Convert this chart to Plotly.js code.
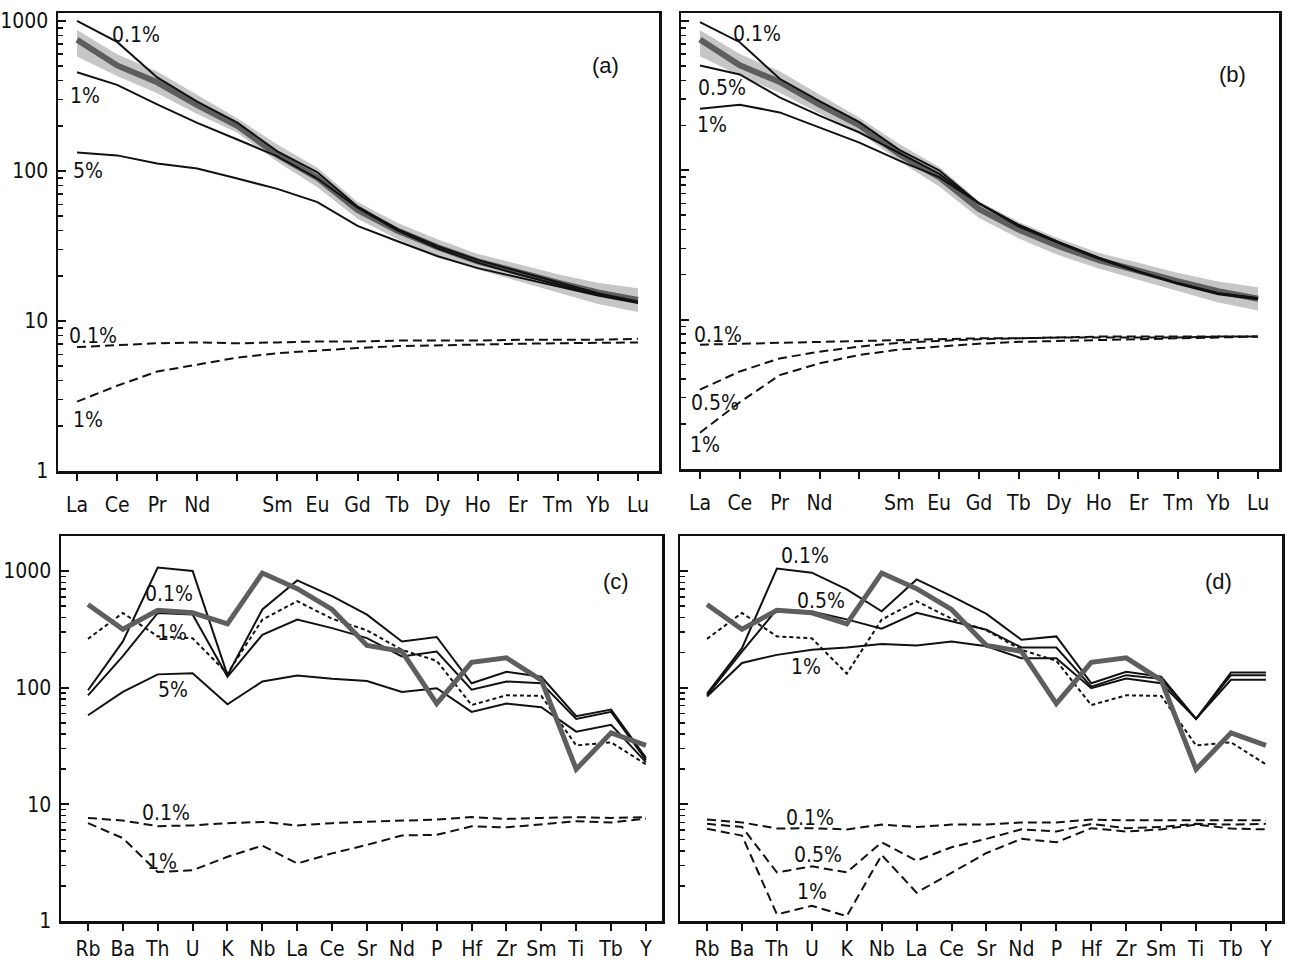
<!DOCTYPE html>
<html><head><meta charset="utf-8">
<script src="https://cdn.plot.ly/plotly-3.0.1.min.js"></script>
<style>html,body{margin:0;padding:0;background:#fff}#chart{width:1295px;height:963px}</style>
</head><body><div id="chart"></div>
<script>
// ---------- REE panels (a), (b) ----------
const reeElements   = ['La','Ce','Pr','Nd','Pm','Sm','Eu','Gd','Tb','Dy','Ho','Er','Tm','Yb','Lu'];
const reeTickLabels = ['La','Ce','Pr','Nd','','Sm','Eu','Gd','Tb','Dy','Ho','Er','Tm','Yb','Lu'];

const sampleBandUpper = [870, 600, 460, 320, 225, 150, 105, 62, 45, 35, 28, 24, 20.5, 18, 16.5];
const sampleBandLower = [580, 430, 330, 240, 180, 115, 78, 48, 35, 27, 22, 18.5, 15.5, 13, 11.5];
const sampleMeanREE   = [750, 505, 390, 275, 200, 128, 90, 55, 40, 31, 25, 21, 18, 15.5, 13.8];

const aMelt01 = [1000, 725, 420, 290, 210, 135, 98, 58, 41, 31.5, 25.5, 21.5, 18, 15.3, 13.5];
const aMelt1  = [455, 375, 278, 209, 162, 125, 89, 57, 40, 30.5, 24.5, 20.5, 17.5, 15, 13.3];
const aMelt5  = [133, 127, 112, 104, 89, 76, 62, 43, 34, 27, 22.5, 19.5, 17, 14.8, 13.2];
const aRes01  = [6.7, 6.9, 7.1, 7.2, 7.1, 7.2, 7.3, 7.3, 7.4, 7.4, 7.4, 7.5, 7.5, 7.5, 7.6];
const aRes1   = [2.9, 3.7, 4.6, 5.1, 5.7, 6.1, 6.35, 6.6, 6.8, 6.9, 7.0, 7.05, 7.1, 7.15, 7.2];

const bMelt01 = [980, 720, 410, 290, 210, 137, 100, 60, 43, 33, 26, 21, 17.5, 15, 13.9];
const bMelt05 = [503, 438, 308, 232, 179, 130, 95, 60, 43, 33, 26, 21, 17.5, 15, 13.9];
const bMelt1  = [258, 275, 244, 194, 153, 116, 90, 60, 42, 32.5, 25.5, 20.8, 17.3, 14.8, 13.7];
const bRes01  = [6.8, 6.9, 7.0, 7.1, 7.2, 7.3, 7.4, 7.5, 7.5, 7.6, 7.6, 7.6, 7.6, 7.7, 7.7];
const bRes05  = [3.4, 4.5, 5.5, 6.1, 6.6, 7.0, 7.2, 7.4, 7.5, 7.6, 7.7, 7.7, 7.7, 7.7, 7.7];
const bRes1   = [1.75, 2.8, 4.25, 5.1, 5.8, 6.3, 6.6, 6.9, 7.1, 7.2, 7.3, 7.4, 7.5, 7.6, 7.7];

// ---------- Spider panels (c), (d) ----------
const spiderElements = ['Rb','Ba','Th','U','K','Nb','La','Ce','Sr','Nd','P','Hf','Zr','Sm','Ti','Tb','Y'];
const sampleSpider   = [516, 317, 460, 438, 352, 960, 705, 468, 230, 205, 73, 165, 180, 116, 20, 41, 32];
const refSpider      = [262, 437, 275, 265, 132, 383, 551, 390, 310, 211, 170, 71, 86, 85, 32, 34, 22];

const cMelt01 = [95, 249, 1070, 1000, 128, 468, 830, 608, 423, 249, 272, 109, 137, 124, 57, 65, 25];
const cMelt1  = [86, 186, 437, 423, 124, 284, 383, 324, 266, 185, 204, 96, 113, 109, 54, 62, 24];
const cMelt5  = [58, 92, 130, 133, 72, 113, 127, 119, 114, 92, 99, 62, 73, 68, 42, 48, 23];
const cRes01  = [7.65, 7.26, 6.5, 6.6, 6.9, 7.07, 6.6, 6.9, 7.1, 7.26, 7.4, 7.77, 7.5, 7.65, 7.77, 7.65, 7.77];
const cRes1   = [6.9, 5.13, 2.63, 2.72, 3.55, 4.43, 3.11, 3.8, 4.49, 5.41, 5.48, 6.48, 6.35, 6.7, 7.16, 7.0, 7.55];

const dMelt01 = [89, 218, 1050, 968, 695, 452, 847, 608, 429, 257, 275, 109, 137, 124, 54, 135, 135];
const dMelt05 = [86, 204, 468, 449, 385, 320, 438, 371, 314, 221, 221, 102, 128, 119, 54, 128, 128];
const dMelt1  = [84, 163, 191, 211, 221, 237, 230, 249, 226, 179, 179, 99, 120, 109, 54, 117, 117];
const dRes01  = [7.4, 7.0, 6.2, 6.25, 6.1, 6.7, 6.4, 6.7, 6.7, 7.0, 7.0, 7.4, 7.3, 7.3, 7.3, 7.3, 7.3];
const dRes05  = [6.8, 6.4, 2.61, 2.94, 2.61, 4.73, 3.29, 4.29, 5.06, 6.1, 5.85, 6.8, 6.25, 6.4, 6.8, 6.7, 6.8];
const dRes1   = [6.17, 5.4, 1.14, 1.35, 1.1, 3.68, 1.75, 2.61, 3.83, 5.06, 4.73, 6.25, 5.85, 6.1, 6.7, 6.2, 6.1];

// ---------- styles ----------
const FONT = "'Liberation Sans Narrow', 'DejaVu Sans Condensed', 'Arial Narrow', 'Liberation Sans', Arial, sans-serif";
const SOLID = {color: '#111', width: 2};
const DASH  = {color: '#111', width: 2, dash: '9px,5px'};
const DOT   = {color: '#111', width: 2, dash: '4px,3px'};
const GRAYTHICK = {color: '#5e5e5e', width: 5};

const idx = n => Array.from({length: n}, (_, i) => i);
const sfx = ax => (ax === 1 ? '' : String(ax));
function tr(ax, ys, line, extra) {
  return Object.assign({
    type: 'scatter', mode: 'lines', x: idx(ys.length), y: ys,
    xaxis: 'x' + sfx(ax), yaxis: 'y' + sfx(ax),
    line: line, hoverinfo: 'skip', showlegend: false
  }, extra || {});
}

const traces = [];
// panel a
traces.push(tr(1, sampleBandUpper, {width: 0, color: '#c6c6c6'}));
traces.push(tr(1, sampleBandLower, {width: 0, color: '#c6c6c6'}, {fill: 'tonexty', fillcolor: '#c6c6c6'}));
traces.push(tr(1, sampleMeanREE, {color: '#5e5e5e', width: 6}));
[aMelt01, aMelt1, aMelt5].forEach(s => traces.push(tr(1, s, SOLID)));
[aRes01, aRes1].forEach(s => traces.push(tr(1, s, DASH)));
// panel b
traces.push(tr(2, sampleBandUpper, {width: 0, color: '#c6c6c6'}));
traces.push(tr(2, sampleBandLower, {width: 0, color: '#c6c6c6'}, {fill: 'tonexty', fillcolor: '#c6c6c6'}));
traces.push(tr(2, sampleMeanREE, {color: '#5e5e5e', width: 6}));
[bMelt01, bMelt05, bMelt1].forEach(s => traces.push(tr(2, s, SOLID)));
[bRes01, bRes05, bRes1].forEach(s => traces.push(tr(2, s, DASH)));
// panel c
[cMelt01, cMelt1, cMelt5].forEach(s => traces.push(tr(3, s, SOLID)));
traces.push(tr(3, refSpider, DOT));
[cRes01, cRes1].forEach(s => traces.push(tr(3, s, DASH)));
traces.push(tr(3, sampleSpider, GRAYTHICK));
// panel d
[dMelt01, dMelt05, dMelt1].forEach(s => traces.push(tr(4, s, SOLID)));
traces.push(tr(4, refSpider, DOT));
[dRes01, dRes05, dRes1].forEach(s => traces.push(tr(4, s, DASH)));
traces.push(tr(4, sampleSpider, GRAYTHICK));

// ---------- axes ----------
const minorVals = [];
[1, 10, 100, 1000].forEach(d => { for (let k = 2; k <= 9; k++) minorVals.push(k * d); });

function xax(ax, domain, labels, range, standoff) {
  return {
    anchor: 'y' + sfx(ax),
    domain: domain, range: range, tickmode: 'array',
    tickvals: idx(labels.length), ticktext: labels,
    ticks: 'outside', ticklen: 7, tickwidth: 2, tickcolor: '#111',
    ticklabelstandoff: standoff,
    showline: true, mirror: true, linewidth: 2.5, linecolor: '#111',
    showgrid: false, zeroline: false, fixedrange: true,
    tickfont: {family: FONT, size: 21, color: '#111'}
  };
}
function yax(ax, domain, range, showLabels) {
  return {
    anchor: 'x' + sfx(ax),
    domain: domain, type: 'log', range: range,
    tickmode: 'array', tickvals: [1, 10, 100, 1000], ticktext: ['1', '10', '100', '1000'],
    showticklabels: showLabels,
    ticks: 'inside', ticklen: 8, tickwidth: 2, tickcolor: '#111',
    ticklabelstandoff: 3,
    minor: {tickmode: 'array', tickvals: minorVals, ticks: 'inside', ticklen: 5, tickwidth: 1.5, tickcolor: '#111'},
    showline: true, mirror: true, linewidth: 2.5, linecolor: '#111',
    showgrid: false, zeroline: false, fixedrange: true,
    tickfont: {family: FONT, size: 21, color: '#111'}
  };
}

const W = 1295, H = 963;
const px = (a, b) => [a / W, b / W];
const py = (top, bottom) => [1 - bottom / H, 1 - top / H];

// ---------- labels ----------
const labelFont = {family: FONT, size: 21, color: '#111'};
function lab(ax, x, ly, text) {
  return {xref: 'x' + sfx(ax), yref: 'y' + sfx(ax),
          x: x, y: ly, text: text, showarrow: false, font: labelFont,
          xanchor: 'center', yanchor: 'middle'};
}
const annotations = [
  lab(1, 1.47, 2.904, '0.1%'), lab(1, 0.19, 2.50, '1%'), lab(1, 0.27, 2.00, '5%'),
  lab(1, 0.40, 0.90, '0.1%'), lab(1, 0.27, 0.342, '1%'), lab(1, 13.2, 2.705, '(a)'),
  lab(2, 1.43, 2.91, '0.1%'), lab(2, 0.55, 2.548, '0.5%'), lab(2, 0.30, 2.30, '1%'),
  lab(2, 0.45, 0.90, '0.1%'), lab(2, 0.38, 0.44, '0.5%'), lab(2, 0.12, 0.158, '1%'), lab(2, 13.35, 2.64, '(b)'),
  lab(3, 2.32, 2.80, '0.1%'), lab(3, 2.40, 2.47, '1%'), lab(3, 2.44, 1.98, '5%'),
  lab(3, 2.24, 0.925, '0.1%'), lab(3, 2.12, 0.506, '1%'), lab(3, 15.14, 2.906, '(c)'),
  lab(4, 2.80, 3.13, '0.1%'), lab(4, 3.26, 2.74, '0.5%'), lab(4, 2.83, 2.18, '1%'),
  lab(4, 2.95, 0.883, '0.1%'), lab(4, 3.18, 0.566, '0.5%'), lab(4, 3.00, 0.249, '1%'), lab(4, 14.63, 2.91, '(d)')
];
annotations.forEach(a => { if (a.text.startsWith('(')) a.font = {family: 'Liberation Sans, Arial, sans-serif', size: 22, color: '#111'}; });

const layout = {
  width: W, height: H, margin: {l: 0, r: 0, t: 0, b: 0},
  paper_bgcolor: '#fff', plot_bgcolor: '#fff', showlegend: false,
  xaxis:  xax(1, px(58, 659),  reeTickLabels, [-0.475, 14.525], 6),
  yaxis:  yax(1, py(13, 471), [0, 3.053], true),
  xaxis2: xax(2, px(681, 1279), reeTickLabels, [-0.475, 14.525], 6),
  yaxis2: yax(2, py(13, 469), [0, 3.053], false),
  xaxis3: xax(3, px(61, 662),  spiderElements, [-0.774, 16.46], 0),
  yaxis3: yax(3, py(536, 921), [0, 3.30], true),
  xaxis4: xax(4, px(680, 1282), spiderElements, [-0.774, 16.46], 0),
  yaxis4: yax(4, py(536, 921), [0, 3.30], false),
  annotations: annotations
};

Plotly.newPlot('chart', traces, layout, {staticPlot: true, displayModeBar: false});
</script>
</body></html>
